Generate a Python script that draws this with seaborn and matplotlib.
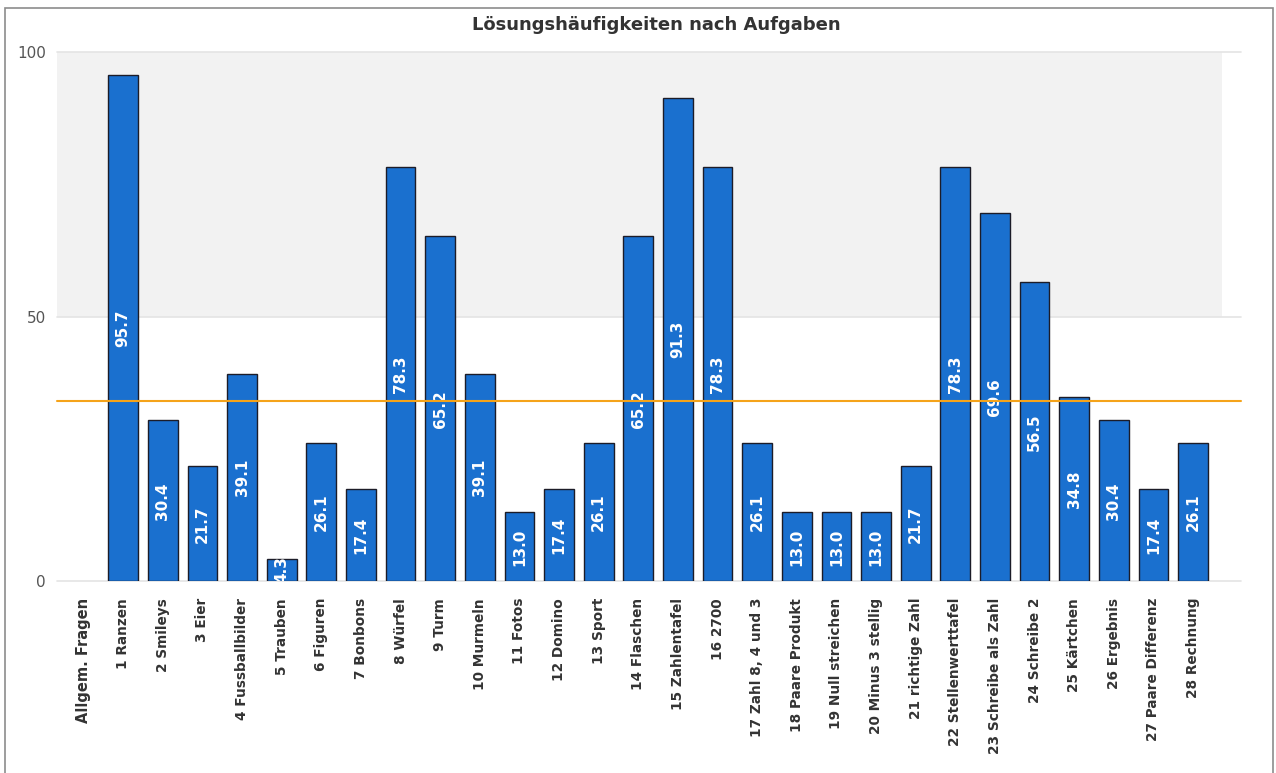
import numpy as np
import pandas as pd
import seaborn as sns
import matplotlib as mpl

mpl.use("Agg")

import matplotlib.pyplot as plt
from matplotlib.patches import Rectangle


TITEL = "Lösungshäufigkeiten nach Aufgaben"

aufgaben = [
    "Allgem. Fragen",
    "1 Ranzen", "2 Smileys", "3 Eier", "4 Fussballbilder", "5 Trauben",
    "6 Figuren", "7 Bonbons", "8 Würfel", "9 Turm", "10 Murmeln",
    "11 Fotos", "12 Domino", "13 Sport", "14 Flaschen", "15 Zahlentafel",
    "16 2700", "17 Zahl 8, 4 und 3", "18 Paare Produkt", "19 Null streichen",
    "20 Minus 3 stellig", "21 richtige Zahl", "22 Stellenwerttafel",
    "23 Schreibe als Zahl", "24 Schreibe 2", "25 Kärtchen", "26 Ergebnis",
    "27 Paare Differenz", "28 Rechnung",
]

loesung = [
    np.nan,
    95.7, 30.4, 21.7, 39.1, 4.3,
    26.1, 17.4, 78.3, 65.2, 39.1,
    13.0, 17.4, 26.1, 65.2, 91.3,
    78.3, 26.1, 13.0, 13.0,
    13.0, 21.7, 78.3,
    69.6, 56.5, 34.8, 30.4,
    17.4, 26.1,
]

referenz = 34.0
y_ticks = [0, 50, 100]

df = pd.DataFrame({"aufgabe": aufgaben, "wert": loesung})

sns.set_theme(style="white")
plt.rcParams["font.family"] = ["DejaVu Sans"]

fig = plt.figure(figsize=(12.76, 7.73), dpi=100)
ax = fig.add_axes([0.0447, 0.248, 0.913, 0.685])

# rahmen um die ganze grafik
fig.patches.append(Rectangle((0.004, -0.01), 0.994, 1.0, transform=fig.transFigure,
                             fill=False, edgecolor="#8c8c8c", linewidth=1.2))

# grauer bereich oben
ax.axhspan(50, 100, color="#f2f2f2", zorder=0, linewidth=0)
for t in y_ticks:
    ax.axhline(t, color="#e4e4e4", linewidth=1.2, xmax=1.016, clip_on=False, zorder=0.5)

sns.barplot(
    data=df, x="aufgabe", y="wert", order=aufgaben, color="#1a70cf",
    width=0.75, edgecolor="#1c1c28", linewidth=1.0, saturation=1, ax=ax, zorder=2,
)

balken = ax.containers[0]
texte = ax.bar_label(
    balken, labels=[f"{v:.1f}" for v in df["wert"].dropna()], label_type="center",
    rotation=90, color="white", fontsize=11, fontweight="bold", zorder=3,
)
for txt, rect in zip(texte, balken):
    txt.set_clip_path(rect)

ax.axhline(referenz, color="#f5a31a", linewidth=1.5, xmax=1.016, clip_on=False, zorder=4)

ax.set_ylim(0, 100)
ax.set_xlim(-0.67, 28.73)
ax.set_yticks(y_ticks)
ax.set_yticklabels([str(t) for t in y_ticks], fontsize=11, color="#555555")
ax.tick_params(axis="y", length=0, pad=8)
ax.tick_params(axis="x", length=0, pad=12)
ax.set_xticks(range(len(aufgaben)))
ax.set_xticklabels(aufgaben, rotation=90, fontsize=9.8, fontweight="bold", color="#333333")
ax.get_xticklabels()[0].set_fontsize(10.5)
ax.set_xlabel("")
ax.set_ylabel("")
sns.despine(ax=ax, left=True, bottom=True, top=True, right=True)

fig.text(0.514, 0.968, TITEL, ha="center", va="center", fontsize=13,
         fontweight="bold", color="#333333")

fig.savefig("out.png", dpi=100)
plt.close(fig)
